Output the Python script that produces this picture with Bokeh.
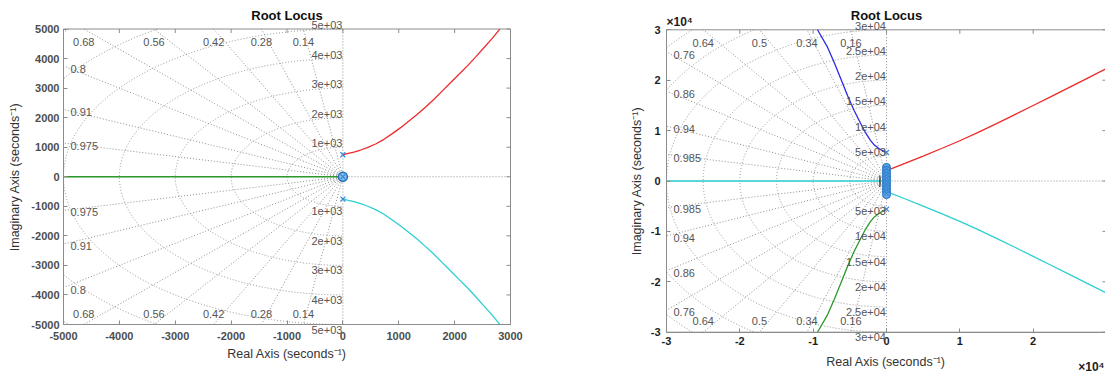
import numpy as np
from bokeh.plotting import figure
from bokeh.models import ColumnDataSource, LabelSet, Label, FixedTicker, Range1d
from bokeh.core.properties import value
from bokeh.layouts import row
from bokeh.embed import file_html
from bokeh.resources import INLINE

# ---------------- data: left root locus ----------------
L_xticks = [-5000, -4000, -3000, -2000, -1000, 0, 1000, 2000, 3000]
L_xtick_labels = ["-5000", "-4000", "-3000", "-2000", "-1000", "0", "1000", "2000", "3000"]
L_yticks = [-5000, -4000, -3000, -2000, -1000, 0, 1000, 2000, 3000, 4000, 5000]
L_ytick_labels = ["-5000", "-4000", "-3000", "-2000", "-1000", "0",
                  "1000", "2000", "3000", "4000", "5000"]
L_zeta = [0.14, 0.28, 0.42, 0.56, 0.68, 0.8, 0.91, 0.975]
L_zeta_labels = ["0.14", "0.28", "0.42", "0.56", "0.68", "0.8", "0.91", "0.975"]
L_wn = [1000, 2000, 3000, 4000, 5000, 6000, 7000]
L_wn_labeled = [1000, 2000, 3000, 4000, 5000]
L_wn_labels = ["1e+03", "2e+03", "3e+03", "4e+03", "5e+03"]

L_red_x = [0, 78, 198, 317, 437, 586, 735, 885, 1034, 1183, 1333, 1482, 1631,
           1781, 1930, 2079, 2229, 2378, 2527, 2677, 2808]
L_red_y = [740, 781, 837, 905, 984, 1108, 1267, 1459, 1662, 1888, 2114, 2363, 2623,
           2905, 3187, 3470, 3753, 4058, 4374, 4690, 4995]
L_cyan_x = [0, 78, 198, 317, 437, 586, 735, 885, 1034, 1183, 1333, 1482, 1631,
            1781, 1930, 2079, 2229, 2378, 2527, 2677, 2808]
L_cyan_y = [-750, -790, -845, -912, -990, -1113, -1270, -1462, -1664, -1890, -2116,
            -2365, -2625, -2907, -3189, -3472, -3755, -4060, -4376, -4692, -4997]
L_green_x = [-5000, 0]
L_green_y = [0, 0]
L_pole_x = [0, 0, 0]
L_pole_y = [745, -755, 0]
L_zero_x = [0]
L_zero_y = [0]

# ---------------- data: right root locus ----------------
R_xticks = [-30000, -20000, -10000, 0, 10000, 20000, 30000]
R_xtick_labels = ["-3", "-2", "-1", "0", "1", "2", "3"]
R_yticks = [-30000, -20000, -10000, 0, 10000, 20000, 30000]
R_ytick_labels = ["-3", "-2", "-1", "0", "1", "2", "3"]
R_zeta = [0.16, 0.34, 0.5, 0.64, 0.76, 0.86, 0.94, 0.985]
R_zeta_labels = ["0.16", "0.34", "0.5", "0.64", "0.76", "0.86", "0.94", "0.985"]
R_wn = [5000, 10000, 15000, 20000, 25000, 30000, 35000, 40000]
R_wn_labeled = [5000, 10000, 15000, 20000, 25000, 30000]
R_wn_labels = ["5e+03", "1e+04", "1.5e+04", "2e+04", "2.5e+04", "3e+04"]

R_blue_x = [0, -1000, -1690, -2236, -2823, -3505, -4418, -5318, -6232, -7145, -8045, -9409]
R_blue_y = [5650, 6385, 7183, 8175, 9484, 11349, 13988, 16964, 20278, 23571, 26548, 30000]
R_green_x = [0, -1000, -1690, -2236, -2823, -3505, -4418, -5318, -6232, -7145, -8045, -9409]
R_green_y = [-5650, -6385, -7183, -8175, -9484, -11349, -13988, -16964, -20278, -23571,
             -26548, -30000]
R_red_x = [100, 2500, 5000, 7500, 10000, 12500, 15000, 17500, 20000, 22500, 25000, 27500, 29900]
R_red_y = [2100, 3480, 4950, 6450, 7990, 9640, 11380, 13170, 14980, 16800, 18630, 20470, 22230]
R_cyan_x = [100, 2500, 5000, 7500, 10000, 12500, 15000, 17500, 20000, 22500, 25000, 27500, 29900]
R_cyan_y = [-2150, -3520, -4980, -6470, -8000, -9640, -11370, -13150, -14950, -16760,
            -18580, -20400, -22150]
R_cyanh_x = [-30000, 0]
R_cyanh_y = [0, 0]
R_black_x = [-900, -900]
R_black_y = [1100, -1200]
R_pole_x = [0, 0, 0, 0, 0, 0, 0, 0, 0, 0, 0]
R_pole_y = [5650, -5600, 2400, 1800, 1200, 600, 0, -600, -1200, -1800, -2400]
R_zero_x = [0, 0, 0, 0, 0, 0, 0, 0, 0, 0]
R_zero_y = [2700, 2100, 1500, 900, 300, -300, -900, -1500, -2100, -2700]

FONT = "Liberation Sans"
GRID_COLOR = "#8f8f8f"
AXIS_COLOR = "#8c8c8c"
LBL_COLOR = "#555555"
RED, CYAN, GREEN, BLUE = "#ee2a2a", "#2ccfd2", "#2a9a2a", "#2a2ae8"
MARK = "#3a8ad6"


class Panel:
    """Figure whose frame covers the whole canvas; the axes box sits inside it."""

    def __init__(self, width, height, box_px, box_data):
        bl, br, bt, bb = box_px
        x0, x1, y0, y1 = box_data
        self.sx = (x1 - x0) / (br - bl)
        self.sy = (y1 - y0) / (bb - bt)
        xs = x0 - bl * self.sx
        xe = x1 + (width - br) * self.sx
        ys = y0 - (height - bb) * self.sy
        ye = y1 + bt * self.sy
        self.box = box_data
        p = figure(width=width, height=height, x_range=Range1d(xs, xe),
                   y_range=Range1d(ys, ye), output_backend="svg", toolbar_location=None,
                   min_border_left=0, min_border_right=0, min_border_top=0,
                   min_border_bottom=0)
        p.xgrid.visible = False
        p.ygrid.visible = False
        p.outline_line_color = None
        p.background_fill_color = "white"
        p.border_fill_color = "white"
        self.p = p


def style_axis(ax, ticks, labels, bounds, loc, color, standoff, lab_standoff):
    ax.ticker = FixedTicker(ticks=ticks)
    ax.major_label_overrides = {t: s for t, s in zip(ticks, labels)}
    ax.bounds = bounds
    ax.fixed_location = loc
    ax.axis_line_color = AXIS_COLOR
    ax.major_tick_line_color = AXIS_COLOR
    ax.minor_tick_line_color = None
    ax.major_tick_in = 4
    ax.major_tick_out = 0
    ax.major_label_text_font = FONT
    ax.major_label_text_font_size = "11px"
    ax.major_label_text_font_style = "bold"
    ax.major_label_text_color = color
    ax.major_label_standoff = standoff
    ax.axis_label_text_font = FONT
    ax.axis_label_text_font_size = "12.5px"
    ax.axis_label_text_font_style = "normal"
    ax.axis_label_text_color = "#333333"
    ax.axis_label_standoff = lab_standoff


def labelset(p, xs, ys, texts, align, baseline, size="11px", color=LBL_COLOR):
    src = ColumnDataSource(dict(x=xs, y=ys, t=texts))
    p.add_layout(LabelSet(x="x", y="y", text="t", source=src, text_align=align,
                          text_baseline=baseline, text_font=value(FONT),
                          text_font_size=value(size), text_color=color))


def box_and_ticks(P, xticks, yticks):
    p = P.p
    x0, x1, y0, y1 = P.box
    p.quad(left=[x0], right=[x1], bottom=[y0], top=[y1], fill_color=None,
           line_color=AXIS_COLOR, line_width=1)
    p.segment(x0=xticks, x1=xticks, y0=[y1] * len(xticks), y1=[y1 - 4 * P.sy] * len(xticks),
              line_color=AXIS_COLOR, line_width=1)
    p.segment(x0=[x1] * len(yticks), x1=[x1 - 4 * P.sx] * len(yticks), y0=yticks, y1=yticks,
              line_color=AXIS_COLOR, line_width=1)


def sgrid(P, zetas, zlabels, wns, wn_lab, wn_texts):
    p = P.p
    x0, x1, y0, y1 = P.box
    ppx, ppy = P.sx, P.sy
    xs, ys = [], []
    for z in zetas:
        s = np.sqrt(1 - z * z)
        tu = min(-x0 / z, y1 / s)
        td = min(-x0 / z, -y0 / s)
        xs += [[0, -z * tu], [0, -z * td]]
        ys += [[0, s * tu], [0, -s * td]]
    th = np.linspace(np.pi / 2, 3 * np.pi / 2, 1441)
    for w in wns:
        cx = w * np.cos(th)
        cy = w * np.sin(th)
        inside = (cx >= x0) & (cy <= y1) & (cy >= y0)
        run_x, run_y = [], []
        for a, b, ok in zip(cx, cy, inside):
            if ok:
                run_x.append(a)
                run_y.append(b)
            elif run_x:
                xs.append(run_x); ys.append(run_y)
                run_x, run_y = [], []
        if run_x:
            xs.append(run_x); ys.append(run_y)
    xs.append([x0, x1]); ys.append([0, 0])
    xs.append([0, 0]); ys.append([y0, y1])
    p.multi_line(xs, ys, line_color=GRID_COLOR, line_dash="1 2", line_width=1)

    lx, ly, lt = [], [], []
    tx, ty, tt = [], [], []
    for z, lab in zip(zetas, zlabels):
        s = np.sqrt(1 - z * z)
        yl = s / z * (-x0)
        if yl <= y1:
            lx += [x0 + 7 * ppx, x0 + 7 * ppx]
            ly += [yl - 3 * ppy, -yl - 2 * ppy]
            lt += [lab, lab]
        else:
            xt = -z * (y1 / s)
            tx += [xt, xt]
            ty += [y1 - 13 * ppy, y0 + 11 * ppy]
            tt += [lab, lab]
    labelset(p, lx, ly, lt, "left", "middle")
    labelset(p, tx, ty, tt, "center", "middle")
    labelset(p, [-0.5 * ppx] * len(wn_lab), list(wn_lab), wn_texts, "right", "bottom")
    labelset(p, [-0.5 * ppx] * len(wn_lab), [-w - 1 * ppy for w in wn_lab], wn_texts,
             "right", "top")


def title(P, text):
    x0, x1, y0, y1 = P.box
    P.p.add_layout(Label(x=(x0 + x1) / 2, y=y1 + 14 * P.sy, text=text, text_align="center",
                         text_baseline="middle", text_font=FONT, text_font_size="13px",
                         text_font_style="bold", text_color="#111111"))


# ---------------- left figure ----------------
P1 = Panel(568, 374, (63, 510, 28.5, 324), (-5000, 3000, -5000, 5000))
p1 = P1.p
sgrid(P1, L_zeta, L_zeta_labels, L_wn, L_wn_labeled, L_wn_labels)
box_and_ticks(P1, L_xticks, L_yticks)
style_axis(p1.xaxis[0], L_xticks, L_xtick_labels, (-5000, 3000), -5000, "#4d4d4d", 7, 4)
style_axis(p1.yaxis[0], L_yticks, L_ytick_labels, (-5000, 5000), -5000, "#4d4d4d", 4, 6)
p1.xaxis.axis_label = "Real Axis (seconds\u207b\u00b9)"
p1.yaxis.axis_label = "Imaginary Axis (seconds\u207b\u00b9)"
p1.line(L_green_x, L_green_y, line_color=GREEN, line_width=1.3)
p1.line(L_red_x, L_red_y, line_color=RED, line_width=1.3)
p1.line(L_cyan_x, L_cyan_y, line_color=CYAN, line_width=1.3)
p1.scatter(L_zero_x, L_zero_y, marker="circle", size=9, line_color="#1f6fbf",
           line_width=1.5, fill_color="#8cbde8")
p1.scatter(L_pole_x, L_pole_y, marker="x", size=7, line_color=MARK, line_width=1.2)
title(P1, "Root Locus")

# ---------------- right figure ----------------
P2 = Panel(537, 374, (98, 538, 29.3, 331.7), (-30000, 30000, -30000, 30000))
p2 = P2.p
sgrid(P2, R_zeta, R_zeta_labels, R_wn, R_wn_labeled, R_wn_labels)
box_and_ticks(P2, R_xticks, R_yticks)
style_axis(p2.xaxis[0], R_xticks, R_xtick_labels, (-30000, 30000), -30000, "#1e1e1e", 5, 6)
style_axis(p2.yaxis[0], R_yticks, R_ytick_labels, (-30000, 30000), -30000, "#1e1e1e", 6, 4)
p2.xaxis.axis_label = "Real Axis (seconds\u207b\u00b9)"
p2.yaxis.axis_label = "Imaginary Axis (seconds\u207b\u00b9)"
p2.line(R_cyanh_x, R_cyanh_y, line_color=CYAN, line_width=1.3)
p2.line(R_blue_x, R_blue_y, line_color=BLUE, line_width=1.3)
p2.line(R_green_x, R_green_y, line_color=GREEN, line_width=1.3)
p2.line(R_red_x, R_red_y, line_color=RED, line_width=1.3)
p2.line(R_cyan_x, R_cyan_y, line_color=CYAN, line_width=1.3)
p2.line(R_black_x, R_black_y, line_color="#111111", line_width=1)
p2.scatter(R_zero_x, R_zero_y, marker="circle", size=8, line_color="#1f6fbf",
           line_width=1, fill_color="#5fa3e3")
p2.scatter(R_pole_x, R_pole_y, marker="x", size=7, line_color=MARK, line_width=1.2)
title(P2, "Root Locus")
x0, x1, y0, y1 = P2.box
p2.add_layout(Label(x=x0, y=y1 + 1 * P2.sy, text="\u00d710\u2074",
                    text_align="left", text_baseline="bottom", text_font=FONT,
                    text_font_size="12px", text_font_style="bold", text_color="#1e1e1e"))
p2.add_layout(Label(x=x1 - 2 * P2.sx, y=y0 - 35 * P2.sy, text="\u00d710\u2074",
                    text_align="right", text_baseline="middle", text_font=FONT,
                    text_font_size="12px", text_font_style="bold", text_color="#1e1e1e"))

layout = row(p1, p2)
open("out.html", "w").write(file_html(layout, INLINE))
